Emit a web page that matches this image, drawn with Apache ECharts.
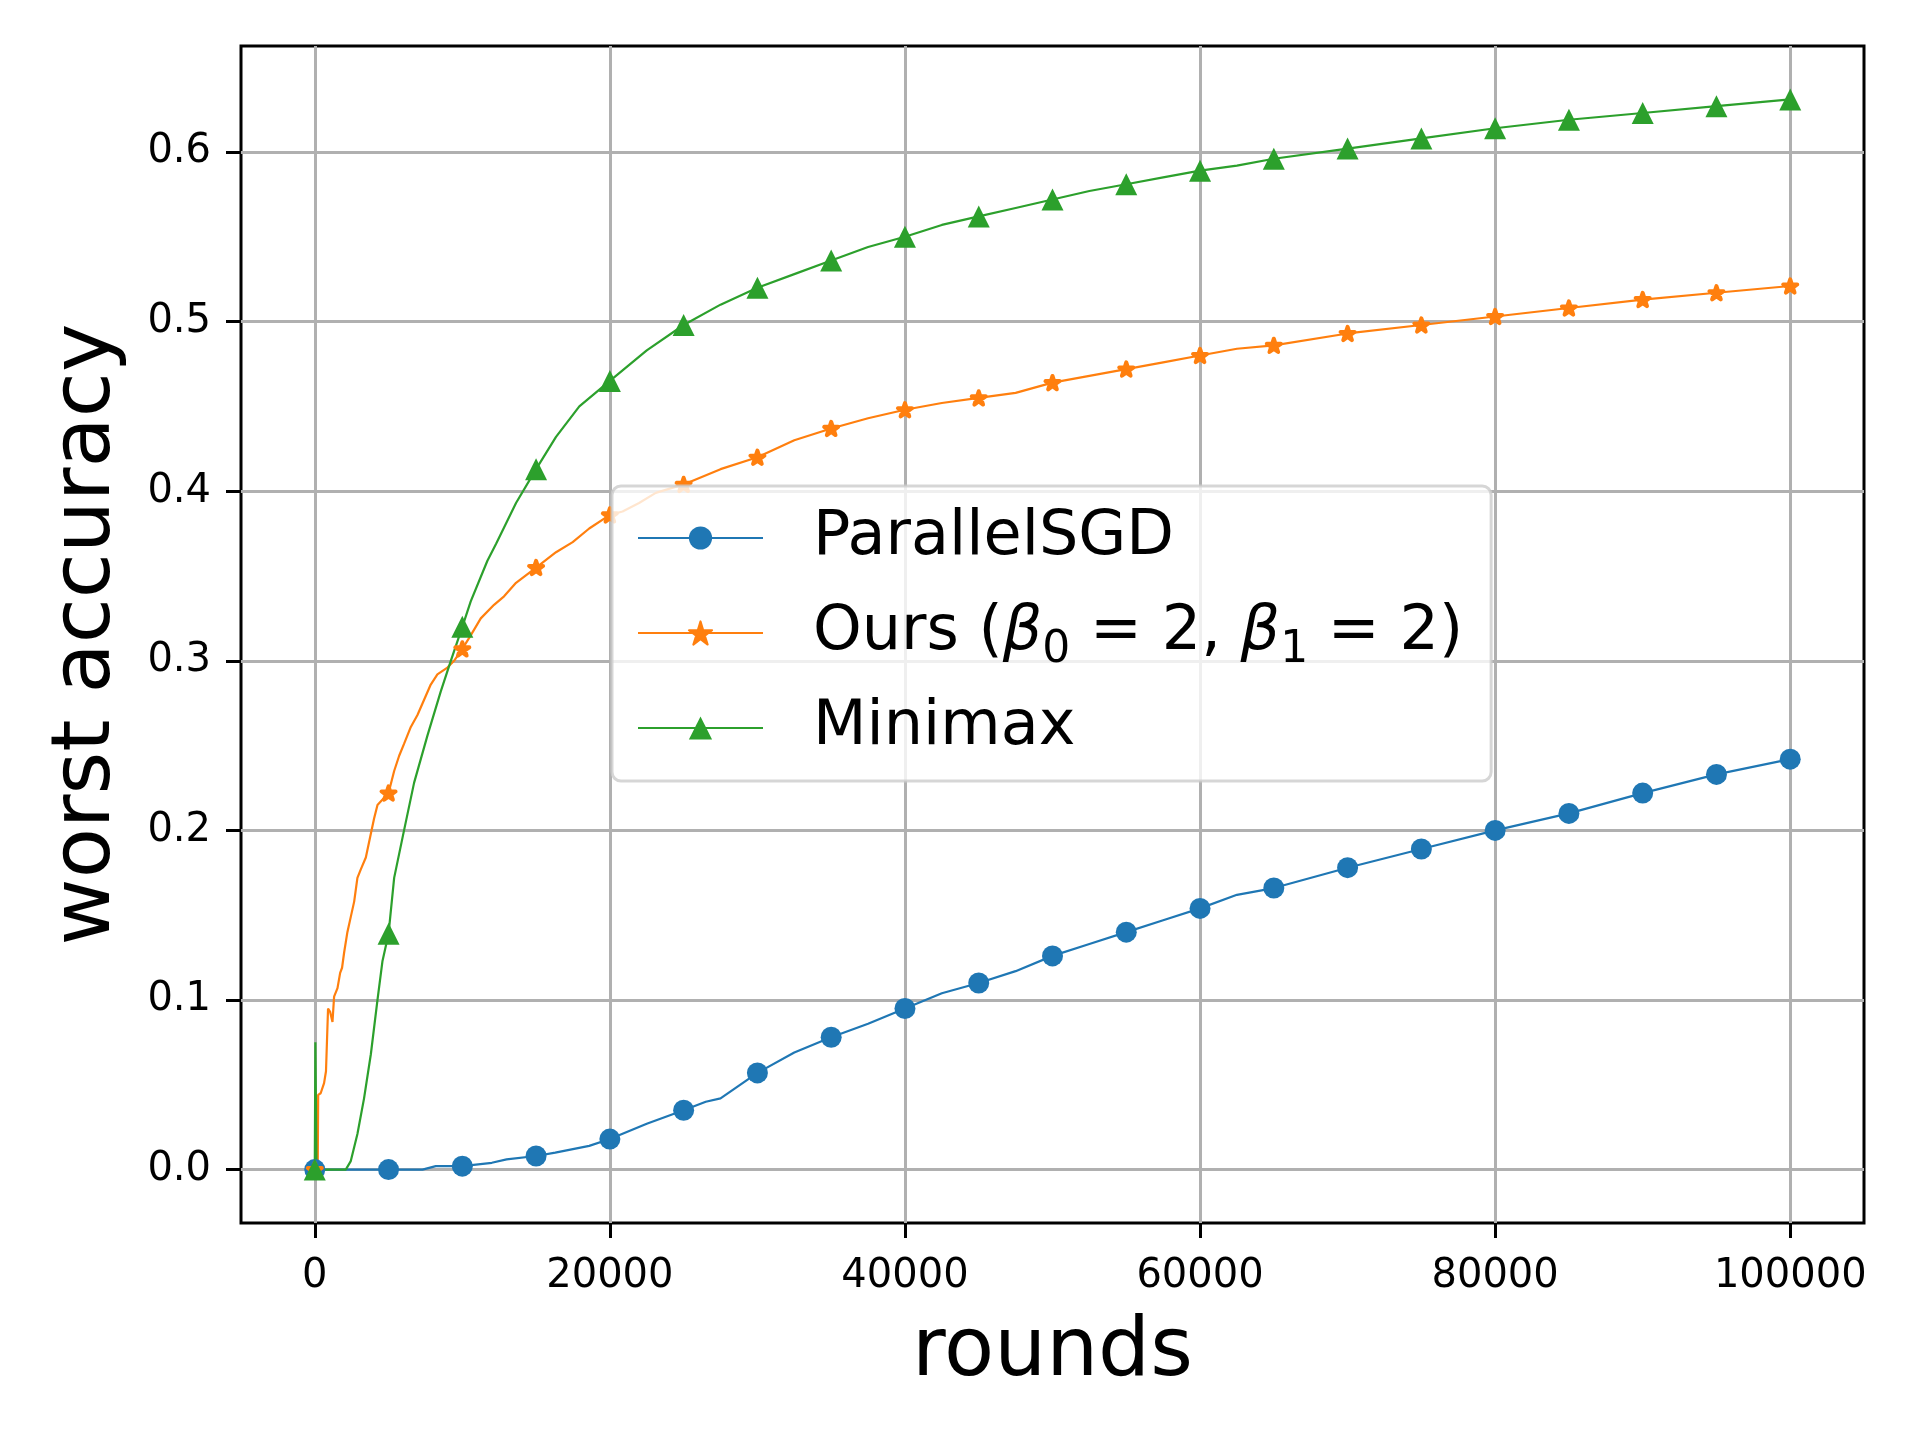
<!DOCTYPE html>
<html>
<head>
<meta charset="utf-8">
<script src="https://cdn.jsdelivr.net/npm/echarts@6/dist/echarts.min.js"></script>
<style>html,body{margin:0;padding:0;background:#fff}#c{width:1920px;height:1440px}</style>
</head>
<body>
<div id="c"></div>
<script>
const seriesNames = ['ParallelSGD', 'Ours', 'Minimax'];
const xTicks = [0, 20000, 40000, 60000, 80000, 100000];
const yTicks = [0, 0.1, 0.2, 0.3, 0.4, 0.5, 0.6];
const markerEvery = 5000;

const parallelSGD = [[0,0],[2500,0],[5000,0],[7300,0],[8200,0.002],[10000,0.002],[12000,0.004],[13000,0.006],[15000,0.008],[16300,0.010],[18600,0.014],[20000,0.018],[22500,0.027],[25000,0.035],[26500,0.040],[27500,0.042],[30000,0.057],[32500,0.069],[35000,0.078],[37500,0.086],[40000,0.095],[42500,0.104],[45000,0.110],[47500,0.117],[50000,0.126],[52500,0.133],[55000,0.140],[57500,0.147],[60000,0.154],[62500,0.162],[65000,0.166],[70000,0.178],[75000,0.189],[80000,0.200],[85000,0.210],[90000,0.222],[95000,0.233],[100000,0.242]];

const ours = [[0,0],[200,0],[230,0.044],[400,0.045],[630,0.051],[760,0.058],[900,0.095],[1040,0.093],[1200,0.087],[1310,0.102],[1540,0.107],[1720,0.116],[1850,0.119],[1990,0.128],[2210,0.140],[2440,0.149],[2670,0.158],[2890,0.172],[3120,0.177],[3460,0.184],[3800,0.198],[4020,0.207],[4250,0.215],[5000,0.222],[5380,0.235],[5720,0.244],[6050,0.251],[6510,0.261],[6960,0.268],[7410,0.277],[7860,0.286],[8310,0.292],[8990,0.296],[9440,0.300],[10000,0.307],[10570,0.315],[11250,0.325],[12150,0.333],[12830,0.338],[13640,0.346],[15000,0.355],[16350,0.364],[17480,0.370],[18600,0.378],[20000,0.386],[20860,0.388],[21980,0.393],[23110,0.399],[25000,0.404],[27500,0.413],[30000,0.420],[32500,0.430],[35000,0.437],[37500,0.443],[40000,0.448],[42500,0.452],[45000,0.455],[47500,0.458],[50000,0.464],[52500,0.468],[55000,0.472],[57500,0.476],[60000,0.480],[62500,0.484],[65000,0.486],[70000,0.493],[75000,0.498],[80000,0.503],[85000,0.508],[90000,0.513],[95000,0.517],[100000,0.521]];

const minimax = [[0,0],[40,0.075],[120,0],[2100,0],[2440,0.005],[2890,0.021],[3340,0.042],[3800,0.068],[4250,0.100],[4590,0.123],[5000,0.139],[5380,0.172],[6050,0.200],[6730,0.228],[7640,0.256],[8540,0.282],[9220,0.300],[10000,0.320],[10570,0.335],[11700,0.359],[12290,0.369],[13640,0.393],[15000,0.413],[16350,0.432],[17930,0.450],[20000,0.465],[22500,0.483],[25000,0.498],[27500,0.510],[30000,0.520],[32500,0.528],[35000,0.536],[37500,0.544],[40000,0.550],[42500,0.557],[45000,0.562],[47500,0.567],[50000,0.572],[52500,0.577],[55000,0.581],[57500,0.585],[60000,0.589],[62500,0.592],[65000,0.596],[70000,0.602],[75000,0.608],[80000,0.614],[85000,0.619],[90000,0.623],[95000,0.627],[100000,0.631]];

const FONT = 'DejaVu Sans';
const starPath = 'path://M0,-1L0.2245,-0.309L0.951,-0.309L0.363,0.118L0.588,0.809L0,0.382L-0.588,0.809L-0.363,0.118L-0.951,-0.309L-0.2245,-0.309Z';

function mk(name, data, color, symbol, size, bw) {
  return {
    name: name, type: 'line', data: data,
    symbol: symbol,
    symbolSize: function (v) { return v[0] % markerEvery === 0 ? size : 0; },
    symbolKeepAspect: true,
    showAllSymbol: true,
    lineStyle: { color: color, width: 2.2 },
    itemStyle: { color: color, borderColor: color, borderWidth: bw, borderJoin: 'round' },
    emphasis: { disabled: true },
    silent: true
  };
}

const chart = echarts.init(document.getElementById('c'), null, { renderer: 'canvas' });
chart.setOption({
  animation: false,
  backgroundColor: '#ffffff',
  grid: { left: 241, top: 46, width: 1623, height: 1177, show: true, borderColor: '#000', borderWidth: 3, backgroundColor: 'transparent', containLabel: false },
  legend: {
    orient: 'vertical', left: 612, top: 486,
    data: seriesNames,
    padding: [21, 28, 22, 25],
    itemWidth: 125, itemHeight: 29, itemGap: 24,
    backgroundColor: 'rgba(255,255,255,0.8)',
    borderColor: 'rgba(204,204,204,0.8)', borderWidth: 3, borderRadius: 9,
    textStyle: {
      color: '#000', fontFamily: FONT, fontSize: 62,
      rich: {
        sp: { width: 45, fontSize: 62, lineHeight: 70 },
        n: { fontSize: 62, fontFamily: FONT, color: '#000', lineHeight: 70 },
        b: { fontSize: 62, fontFamily: FONT, fontStyle: 'italic', color: '#000', lineHeight: 70 },
        s: { fontSize: 44, fontFamily: FONT, color: '#000', lineHeight: 34, padding: [36, 0, 0, 0] }
      }
    },
    formatter: function (name) {
      if (name === 'Ours') return '{sp| }{n|Ours (}{b|β}{s|0}{n| = 2, }{b|β}{s|1}{n| = 2)}';
      return '{sp| }{n|' + name + '}';
    }
  },
  xAxis: {
    type: 'value', min: -5000, max: 105000,
    name: 'rounds', nameLocation: 'middle', nameGap: 90,
    nameTextStyle: { fontFamily: FONT, fontSize: 82, color: '#000' },
    axisLine: { show: false, onZero: false },
    axisTick: { show: true, length: 15, lineStyle: { color: '#000', width: 3 }, customValues: xTicks },
    axisLabel: { customValues: xTicks, fontFamily: FONT, fontSize: 40, color: '#000', margin: 34, formatter: function (v) { return String(v); } },
    splitLine: { show: true, lineStyle: { color: '#b0b0b0', width: 3 } }
  },
  yAxis: {
    type: 'value', min: -0.0315, max: 0.6625,
    name: 'worst accuracy', nameLocation: 'middle', nameGap: 112,
    nameTextStyle: { fontFamily: FONT, fontSize: 82, color: '#000' },
    axisLine: { show: false, onZero: false },
    axisTick: { show: true, length: 15, lineStyle: { color: '#000', width: 3 }, customValues: yTicks },
    axisLabel: { customValues: yTicks, fontFamily: FONT, fontSize: 40, color: '#000', margin: 30, formatter: function (v) { return v.toFixed(1); } },
    splitLine: { show: true, lineStyle: { color: '#b0b0b0', width: 3 } }
  },
  series: [
    mk('ParallelSGD', parallelSGD, '#1f77b4', 'circle', 21, 0),
    mk('Ours', ours, '#ff7f0e', starPath, 14, 4),
    mk('Minimax', minimax, '#2ca02c', 'triangle', 22, 0)
  ]
});
</script>
</body>
</html>
